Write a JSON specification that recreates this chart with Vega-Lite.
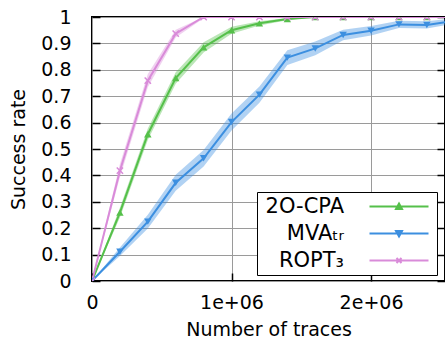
{
  "$schema": "https://vega.github.io/schema/vega-lite/v6.json",
  "width": 353,
  "height": 264,
  "autosize": {"type": "none"},
  "padding": {"left": 92, "top": 17, "right": 0, "bottom": 58},
  "background": "white",
  "config": {
    "font": "DejaVu Sans",
    "view": {"stroke": "black", "strokeWidth": 2},
    "axis": {
      "labelFont": "DejaVu Sans",
      "titleFont": "DejaVu Sans",
      "labelFontSize": 19,
      "titleFontSize": 19,
      "labelColor": "black",
      "titleColor": "black",
      "titleFontWeight": "normal",
      "gridColor": "#9a9a9a",
      "gridWidth": 1,
      "gridOpacity": 1,
      "tickColor": "black",
      "tickWidth": 1.5,
      "domain": false
    },
    "legend": {
      "labelFont": "DejaVu Sans",
      "labelFontSize": 21,
      "labelColor": "black"
    }
  },
  "data": {
    "values": [
      {"series": "2O-CPA", "traces": 0, "rate": 0, "lo": 0, "hi": 0},
      {"series": "2O-CPA", "traces": 200000, "rate": 0.259, "lo": 0.241, "hi": 0.277},
      {"series": "2O-CPA", "traces": 400000, "rate": 0.556, "lo": 0.534, "hi": 0.578},
      {"series": "2O-CPA", "traces": 600000, "rate": 0.769, "lo": 0.747, "hi": 0.791},
      {"series": "2O-CPA", "traces": 800000, "rate": 0.885, "lo": 0.866, "hi": 0.904},
      {"series": "2O-CPA", "traces": 1000000, "rate": 0.95, "lo": 0.937, "hi": 0.963},
      {"series": "2O-CPA", "traces": 1200000, "rate": 0.976, "lo": 0.968, "hi": 0.984},
      {"series": "2O-CPA", "traces": 1400000, "rate": 0.992, "lo": 0.988, "hi": 0.996},
      {"series": "2O-CPA", "traces": 1600000, "rate": 1, "lo": 1, "hi": 1},
      {"series": "2O-CPA", "traces": 1800000, "rate": 1, "lo": 1, "hi": 1},
      {"series": "2O-CPA", "traces": 2000000, "rate": 1, "lo": 1, "hi": 1},
      {"series": "2O-CPA", "traces": 2200000, "rate": 1, "lo": 1, "hi": 1},
      {"series": "2O-CPA", "traces": 2400000, "rate": 1, "lo": 1, "hi": 1},
      {"series": "2O-CPA", "traces": 2600000, "rate": 1, "lo": 1, "hi": 1},
      {"series": "MVA_TR", "traces": 0, "rate": 0, "lo": 0, "hi": 0},
      {"series": "MVA_TR", "traces": 200000, "rate": 0.111, "lo": 0.095, "hi": 0.127},
      {"series": "MVA_TR", "traces": 400000, "rate": 0.225, "lo": 0.199, "hi": 0.251},
      {"series": "MVA_TR", "traces": 600000, "rate": 0.372, "lo": 0.342, "hi": 0.402},
      {"series": "MVA_TR", "traces": 800000, "rate": 0.465, "lo": 0.434, "hi": 0.496},
      {"series": "MVA_TR", "traces": 1000000, "rate": 0.602, "lo": 0.57, "hi": 0.634},
      {"series": "MVA_TR", "traces": 1200000, "rate": 0.706, "lo": 0.675, "hi": 0.737},
      {"series": "MVA_TR", "traces": 1400000, "rate": 0.846, "lo": 0.818, "hi": 0.874},
      {"series": "MVA_TR", "traces": 1600000, "rate": 0.881, "lo": 0.855, "hi": 0.907},
      {"series": "MVA_TR", "traces": 1800000, "rate": 0.932, "lo": 0.912, "hi": 0.952},
      {"series": "MVA_TR", "traces": 2000000, "rate": 0.948, "lo": 0.93, "hi": 0.966},
      {"series": "MVA_TR", "traces": 2200000, "rate": 0.972, "lo": 0.958, "hi": 0.986},
      {"series": "MVA_TR", "traces": 2400000, "rate": 0.97, "lo": 0.956, "hi": 0.984},
      {"series": "MVA_TR", "traces": 2600000, "rate": 0.985, "lo": 0.975, "hi": 0.995},
      {"series": "ROPT3", "traces": 0, "rate": 0, "lo": 0, "hi": 0},
      {"series": "ROPT3", "traces": 200000, "rate": 0.418, "lo": 0.393, "hi": 0.443},
      {"series": "ROPT3", "traces": 400000, "rate": 0.759, "lo": 0.734, "hi": 0.784},
      {"series": "ROPT3", "traces": 600000, "rate": 0.937, "lo": 0.922, "hi": 0.952},
      {"series": "ROPT3", "traces": 800000, "rate": 1, "lo": 0.995, "hi": 1},
      {"series": "ROPT3", "traces": 1000000, "rate": 1, "lo": 1, "hi": 1},
      {"series": "ROPT3", "traces": 1200000, "rate": 1, "lo": 1, "hi": 1},
      {"series": "ROPT3", "traces": 1400000, "rate": 1, "lo": 1, "hi": 1},
      {"series": "ROPT3", "traces": 1600000, "rate": 1, "lo": 1, "hi": 1},
      {"series": "ROPT3", "traces": 1800000, "rate": 1, "lo": 1, "hi": 1},
      {"series": "ROPT3", "traces": 2000000, "rate": 1, "lo": 1, "hi": 1},
      {"series": "ROPT3", "traces": 2200000, "rate": 1, "lo": 1, "hi": 1},
      {"series": "ROPT3", "traces": 2400000, "rate": 1, "lo": 1, "hi": 1},
      {"series": "ROPT3", "traces": 2600000, "rate": 1, "lo": 1, "hi": 1}
    ]
  },
  "encoding": {
    "x": {
      "field": "traces",
      "type": "quantitative",
      "scale": {"domain": [0, 2530000], "nice": false, "zero": false},
      "axis": {
        "title": "Number of traces",
        "values": [0, 1000000, 2000000],
        "labelExpr": "datum.value == 0 ? '0' : (datum.value / 1000000) + 'e+06'",
        "tickSize": -8,
        "labelPadding": 20,
        "titlePadding": 8,
        "labelFlush": false,
        "labelOverlap": false
      }
    },
    "color": {
      "field": "series",
      "type": "nominal",
      "scale": {"domain": ["2O-CPA", "MVA_TR", "ROPT3"], "range": ["#55c04a", "#3c8fe0", "#d98bd9"]},
      "legend": {
        "title": null,
        "orient": "none",
        "legendX": 165,
        "legendY": 175,
        "padding": 4,
        "fillColor": "white",
        "strokeColor": "black",
        "rowPadding": 5,
        "symbolSize": 100,
        "symbolStrokeWidth": 2,
        "symbolOpacity": 1,
        "labelAlign": "right",
        "labelOffset": 62,
        "labelLimit": 200,
        "labelExpr": "datum.value == 'MVA_TR' ? 'MVAₜᵣ' : datum.value == 'ROPT3' ? 'ROPT₃' : datum.value"
      }
    }
  },
  "layer": [
    {
      "mark": {"type": "area", "opacity": 0.4, "clip": true},
      "encoding": {
        "y": {
          "field": "lo",
          "type": "quantitative",
          "scale": {"domain": [0, 1], "nice": false},
          "axis": {
            "title": "Success rate",
            "values": [0, 0.1, 0.2, 0.3, 0.4, 0.5, 0.6, 0.7, 0.8, 0.9, 1],
            "format": ".1~f",
            "tickSize": -8,
            "labelPadding": 29,
            "titlePadding": 12,
            "labelFlush": false,
            "labelOverlap": false
          }
        },
        "y2": {"field": "hi"}
      }
    },
    {
      "mark": {"type": "line", "strokeWidth": 2, "clip": true},
      "encoding": {
        "y": {
          "field": "rate",
          "type": "quantitative",
          "axis": {
            "orient": "right",
            "title": null,
            "labels": false,
            "grid": false,
            "tickSize": -8,
            "values": [0, 0.1, 0.2, 0.3, 0.4, 0.5, 0.6, 0.7, 0.8, 0.9, 1]
          }
        }
      }
    },
    {
      "transform": [{"filter": "datum.series == '2O-CPA'"}],
      "mark": {"type": "point", "filled": true, "shape": "triangle-up", "size": 55, "opacity": 1, "clip": true},
      "encoding": {
        "y": {"field": "rate", "type": "quantitative", "axis": null}
      }
    },
    {
      "transform": [{"filter": "datum.series == 'MVA_TR'"}],
      "mark": {"type": "point", "filled": true, "shape": "triangle-down", "size": 55, "opacity": 1, "clip": true},
      "encoding": {
        "y": {"field": "rate", "type": "quantitative", "axis": null}
      }
    },
    {
      "transform": [{"filter": "datum.series == 'ROPT3'"}],
      "mark": {"type": "point", "filled": false, "shape": "M-1,-1L1,1M-1,1L1,-1", "size": 40, "strokeWidth": 1.5, "opacity": 1, "clip": true},
      "encoding": {
        "y": {"field": "rate", "type": "quantitative", "axis": null}
      }
    },
    {
      "transform": [{"filter": "datum.traces < 0"}],
      "mark": {"type": "point", "filled": true, "opacity": 1, "strokeWidth": 2},
      "encoding": {
        "y": {"field": "rate", "type": "quantitative", "axis": null},
        "stroke": {
          "field": "series",
          "type": "nominal",
          "scale": {"domain": ["2O-CPA", "MVA_TR", "ROPT3"], "range": ["#55c04a", "#3c8fe0", "#d98bd9"]}
        },
        "shape": {
          "field": "series",
          "type": "nominal",
          "scale": {
            "domain": ["2O-CPA", "MVA_TR", "ROPT3"],
            "range": [
              "M19.6,0H31.4M25.5,-0.6L26.1,0.5L24.9,0.5Z",
              "M19.6,0H31.4M25.5,0.6L26.1,-0.5L24.9,-0.5Z",
              "M19.6,0H31.4M25,-0.5L26,0.5M25,0.5L26,-0.5"
            ]
          }
        }
      }
    }
  ],
  "resolve": {"axis": {"y": "independent"}}
}
